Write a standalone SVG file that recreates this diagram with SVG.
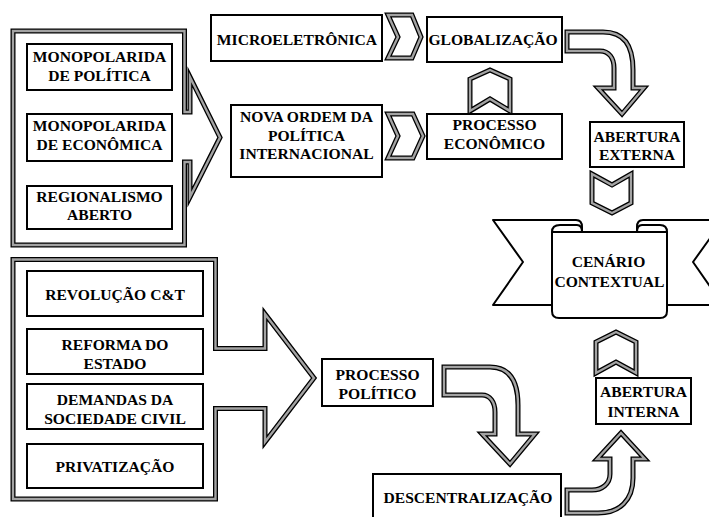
<svg xmlns="http://www.w3.org/2000/svg" width="709" height="517" viewBox="0 0 709 517">
<style>
.box{fill:#fff;stroke:#000;stroke-width:2}
.t{font-family:'Liberation Serif','Times New Roman',serif;font-weight:700;font-size:15.6px;fill:#000;text-anchor:middle}
.o{fill:#fff;stroke:#000;stroke-width:5;stroke-linejoin:miter;stroke-miterlimit:6}
.i{fill:none;stroke:#a3a3a3;stroke-width:2.4;stroke-linejoin:miter;stroke-miterlimit:6}
.rb{fill:#fff;stroke:#000;stroke-width:2;stroke-linejoin:round}
.rl{fill:none;stroke:#000;stroke-width:2;stroke-linejoin:round}
</style>
<defs>
<path id="frameTop" d="M13,31 H184.5 V112 H190 V77 L220,137.5 L190,197 V162 H184.5 V245 H13 Z"/>
<path id="frameBot" d="M13,259.5 H215.5 V348.5 H265 V314 L314,378 L265,442 V408.5 H215.5 V499 H13 Z"/>
<path id="chR1" d="M388,15 L412,15 L421,37 L412,58 L388,58 L398,37 Z"/>
<path id="chR2" d="M388,114 L413,114 L423,136 L413,158 L388,158 L398,136 Z"/>
<path id="chU1" d="M470,111 L470,79 L490,70 L510,79 L510,111 L490,99 Z"/>
<path id="chD1" d="M592,174 L612,185 L631,174 L631,203 L612,213 L592,203 Z"/>
<path id="chU2" d="M596,373 L596,342 L616,332 L636,342 L636,373 L616,362 Z"/>
<path id="cvA" d="M567,32 L603,32 C624,32 633,45 633,70 L633,88 L644,88 L622,114 L598,88 L614,88 L614,68 C614,58 609,51 600,51 L567,51 Z"/>
<path id="cvB" d="M444,367 L490,367 C510,367 518,382 518,405 L518,434 L535,434 L510,464 L482,434 L495,434 L495,412 C495,402 490,395 482,395 L444,395 Z"/>
<path id="cvC" d="M567,490 L592,490 C602,490 610,484 610,474 L610,459 L597,459 L621,433 L645,459 L633,459 L633,478 C633,500 620,513 598,513 L567,513 Z"/>
</defs>

<g id="frame-top">
<use href="#frameTop" class="o"/><use href="#frameTop" class="i"/>
</g>
<g id="frame-bottom">
<use href="#frameBot" class="o"/><use href="#frameBot" class="i"/>
</g>

<g id="connectors">
<use href="#chR1" class="o"/><use href="#chR1" class="i"/>
<use href="#chR2" class="o"/><use href="#chR2" class="i"/>
<use href="#chU1" class="o"/><use href="#chU1" class="i"/>
<use href="#chD1" class="o"/><use href="#chD1" class="i"/>
<use href="#chU2" class="o"/><use href="#chU2" class="i"/>
<use href="#cvA" class="o"/><use href="#cvA" class="i"/>
<use href="#cvB" class="o"/><use href="#cvB" class="i"/>
<use href="#cvC" class="o"/><use href="#cvC" class="i"/>
</g>

<g id="mono-pol">
<rect class="box" x="27" y="44" width="145" height="46"/>
<text class="t" x="99.5" y="62">MONOPOLARIDA</text>
<text class="t" x="99.5" y="80.5">DE POLÍTICA</text>
</g>
<g id="mono-eco">
<rect class="box" x="27" y="114" width="145" height="47"/>
<text class="t" x="99.5" y="130.5">MONOPOLARIDA</text>
<text class="t" x="99.5" y="149.5">DE ECONÔMICA</text>
</g>
<g id="regionalismo">
<rect class="box" x="27" y="186" width="145" height="43"/>
<text class="t" x="99.5" y="201.5">REGIONALISMO</text>
<text class="t" x="99.5" y="219.5">ABERTO</text>
</g>
<g id="micro">
<rect class="box" x="211" y="15" width="171" height="46"/>
<text class="t" x="297" y="45">MICROELETRÔNICA</text>
</g>
<g id="globalizacao">
<rect class="box" x="427" y="17" width="135" height="45"/>
<text class="t" x="493" y="45">GLOBALIZAÇÃO</text>
</g>
<g id="nova-ordem">
<rect class="box" x="231" y="105" width="151" height="72"/>
<text class="t" x="306.5" y="122">NOVA ORDEM DA</text>
<text class="t" x="306.5" y="140.5">POLÍTICA</text>
<text class="t" x="306.5" y="159">INTERNACIONAL</text>
</g>
<g id="processo-economico">
<rect class="box" x="427" y="114" width="135" height="45"/>
<text class="t" x="494.5" y="130">PROCESSO</text>
<text class="t" x="494.5" y="148.5">ECONÔMICO</text>
</g>
<g id="abertura-externa">
<rect class="box" x="590" y="122" width="94" height="45"/>
<text class="t" x="637" y="141.5">ABERTURA</text>
<text class="t" x="637" y="160">EXTERNA</text>
</g>

<g id="cenario">
<path class="rb" d="M493,220 L576,220 Q582,220 582,227 L582,305 L493,305 L523,262 Z"/>
<path class="rb" d="M723,220 L643,220 Q637,220 637,227 L637,305 L723,305 L693,262 Z"/>
<path class="rb" d="M552,232 L552,311 Q552,318 559,318 L660,318 Q667,318 667,311 L667,232 Z"/>
<path class="rl" d="M552,232 Q552,225 560,225 L577,225 Q582,225 582,232"/>
<path class="rl" d="M637,232 Q637,225 642,225 L660,225 Q667,225 667,232"/>
<text class="t" x="608.5" y="267">CENÁRIO</text>
<text class="t" x="609.5" y="287">CONTEXTUAL</text>
</g>

<g id="revolucao">
<rect class="box" x="27" y="271" width="176" height="45"/>
<text class="t" x="115" y="300">REVOLUÇÃO C&amp;T</text>
</g>
<g id="reforma">
<rect class="box" x="27" y="329" width="176" height="45"/>
<text class="t" x="115" y="350">REFORMA DO</text>
<text class="t" x="115" y="368.5">ESTADO</text>
</g>
<g id="demandas">
<rect class="box" x="27" y="384" width="176" height="45"/>
<text class="t" x="115" y="405">DEMANDAS DA</text>
<text class="t" x="115" y="423.5">SOCIEDADE CIVIL</text>
</g>
<g id="privatizacao">
<rect class="box" x="27" y="444" width="176" height="44"/>
<text class="t" x="115" y="471.5">PRIVATIZAÇÃO</text>
</g>
<g id="processo-politico">
<rect class="box" x="322" y="359" width="111" height="47"/>
<text class="t" x="377.5" y="380">PROCESSO</text>
<text class="t" x="377.5" y="398.5">POLÍTICO</text>
</g>
<g id="descentralizacao">
<rect class="box" x="373" y="474" width="188" height="60"/>
<text class="t" x="468" y="503">DESCENTRALIZAÇÃO</text>
</g>
<g id="abertura-interna">
<rect class="box" x="596" y="378" width="95" height="46"/>
<text class="t" x="643.5" y="397">ABERTURA</text>
<text class="t" x="643.5" y="416.5">INTERNA</text>
</g>
</svg>
